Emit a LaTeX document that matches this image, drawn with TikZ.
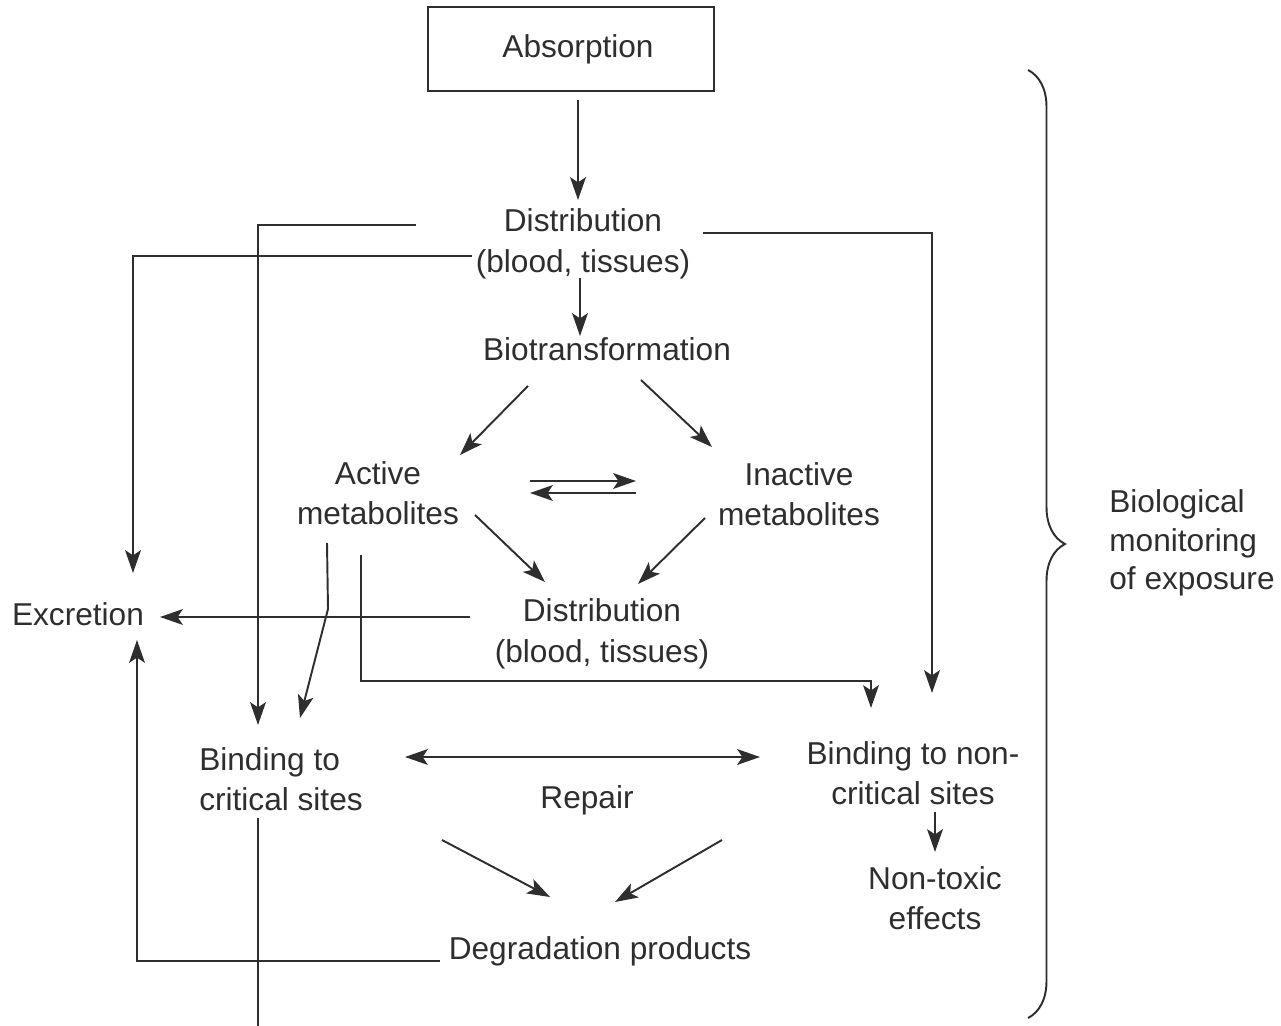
\documentclass[tikz,border=0pt]{standalone}
\usepackage{fontspec}
\setmainfont{Liberation Sans}
\usepackage{xcolor}
\definecolor{inkgray}{HTML}{2E2E2E}
\usetikzlibrary{arrows.meta,calc,decorations.pathreplacing}

\begin{document}
\begin{tikzpicture}[x=0.02cm,y=-0.02cm,
  stage/.style={align=center,inner sep=0pt,text=inkgray,font=\fontsize{18}{23}\selectfont},
  arr/.style={-{Stealth[length=13pt,width=9pt,inset=3pt]},line width=1.1pt,draw=inkgray},
  darr/.style={{Stealth[length=13pt,width=9pt,inset=3pt]}-{Stealth[length=13pt,width=9pt,inset=3pt]},line width=1.1pt,draw=inkgray},
  ln/.style={line width=1.1pt,draw=inkgray}]
\useasboundingbox (0,0) rectangle (1281,1026);
\node[stage,draw=inkgray,line width=1.2pt,minimum width=5.72cm,minimum height=1.68cm] (abs) at (571,49) {\hspace*{0.28cm}Absorption};
\node[stage] (dist1) at (583,244) {Distribution\\(blood, tissues)};
\node[stage] (bio) at (607,349) {Biotransformation};
\node[stage] (act) at (378,493) {Active\\metabolites};
\node[stage] (inact) at (799,494) {Inactive\\metabolites};
\node[stage] (dist2) at (602,634) {Distribution\\(blood, tissues)};
\node[stage] (exc) at (78,614) {Excretion};
\node[stage,align=left] (crit) at (281,779) {Binding to\\critical sites};
\node[stage] (rep) at (587,800) {Repair};
\node[stage] (noncrit) at (913,773) {Binding to non-\\critical sites};
\node[stage] (nontox) at (935,898) {Non-toxic\\effects};
\node[stage] (degr) at (600,951) {Degradation products};
\node[stage,align=left,font=\fontsize{18}{22}\selectfont] (bmon) at (1192,543) {Biological\\monitoring\\of exposure};
\coordinate (cut) at (258,1026);
\coordinate (btop) at (1028,70);
\coordinate (bbot) at (1028,1018);
% main stream
\draw[arr] ($(abs)+(7,51)$) -- ($(dist1)+(-5,-44)$);
\draw[arr] ($(dist1)+(-3,34)$) -- ($(bio)+(-27,-13)$);
\draw[arr] ($(bio)+(-79,37)$) -- ($(act)+(82,-38)$);
\draw[arr] ($(bio)+(34,31)$) -- ($(inact)+(-87,-47)$);
\draw[arr] ($(act)+(152,-12)$) -- ($(inact)+(-163,-13)$);
\draw[arr] ($(inact)+(-163,-1)$) -- ($(act)+(152,0)$);
\draw[arr] ($(act)+(97,22)$) -- ($(dist2)+(-57,-52)$);
\draw[arr] ($(inact)+(-94,24)$) -- ($(dist2)+(36,-50)$);
\draw[arr] ($(dist2)+(-132,-17)$) -- ($(exc)+(82,3)$);
% side routes
\draw[arr] ($(dist1)+(-167,-19)$) -| ($(crit)+(-23,-54)$);
\draw[arr] ($(dist1)+(-111,12)$) -| ($(exc)+(55,-41)$);
\draw[arr] ($(dist1)+(120,-11)$) -| ($(noncrit)+(19,-80)$);
\draw[arr] ($(act)+(-51,50)$) -- ++(1,66) -- ($(crit)+(19,-61)$);
\draw[arr] ($(act)+(-17,62)$) |- ($(noncrit)+(-42,-92)$) -- ($(noncrit)+(-42,-65)$);
\draw[darr] ($(crit)+(124,-22)$) -- ($(noncrit)+(-153,-16)$);
\draw[arr] ($(crit)+(161,61)$) -- ($(degr)+(-50,-54)$);
\draw[arr] ($(noncrit)+(-191,67)$) -- ($(degr)+(15,-49)$);
\draw[arr] ($(noncrit)+(22,39)$) -- ($(nontox)+(0,-46)$);
\draw[arr] ($(degr)+(-160,10)$) -| ($(exc)+(59,26)$);
\draw[ln] ($(crit)+(-23,39)$) -- (cut);
% brace
\draw[ln,decorate,decoration={brace,amplitude=0.74cm}] (btop) -- (bbot);
\end{tikzpicture}
\end{document}
